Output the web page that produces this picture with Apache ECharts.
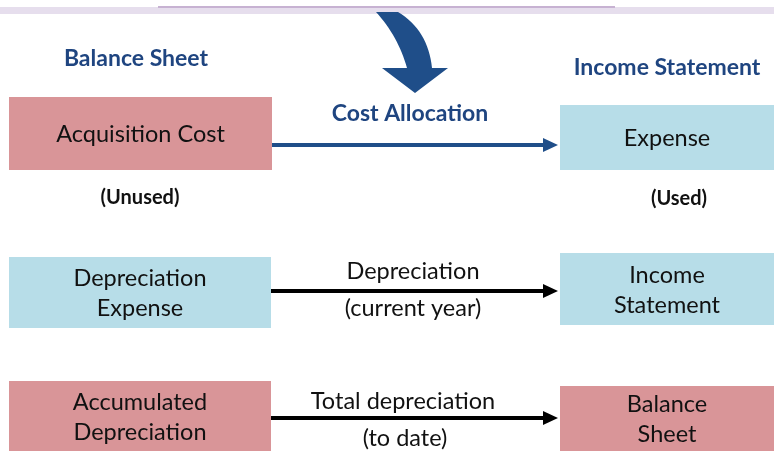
<!DOCTYPE html>
<html>
<head>
<meta charset="utf-8">
<title>Cost Allocation</title>
<style>
  html, body { margin: 0; padding: 0; background: #fff; }
  #main { width: 774px; height: 451px; }
</style>
</head>
<body>
<div id="main"></div>
<script src="https://cdn.jsdelivr.net/npm/echarts@6/dist/echarts.min.js"></script>
<script>
// boxes of the diagram (diagram units = page pixels, y downwards)
var boxText   = ['Acquisition Cost', 'Expense', 'Depreciation\nExpense', 'Income\nStatement', 'Accumulated\nDepreciation', 'Balance\nSheet'];
var boxKind   = ['bs', 'is', 'is', 'is', 'bs', 'bs'];
var boxLeft   = [9, 560, 9, 560, 9, 560];
var boxRight  = [272, 774, 271, 774, 271, 774];
var boxTop    = [97, 105, 257, 253, 381, 386];
var boxBottom = [170, 170, 328, 325, 451, 451];

// straight arrows
var arrowFrom  = [272, 271, 271];
var arrowTo    = [558, 558, 558];
var arrowY     = [145, 291, 418];
var arrowColor = ['#1f4e89', '#000', '#000'];

// free text labels
var labelText = ['Balance Sheet', 'Income Statement', 'Cost Allocation', '(Unused)', '(Used)',
                 'Depreciation', '(current year)', 'Total depreciation', '(to date)'];
var labelX    = [136, 667, 410, 140, 679, 413, 413, 403, 405];
var labelY    = [59, 68, 114, 198, 199, 271, 308, 401, 438];
var labelKind = ['head', 'head', 'head', 'note', 'note', 'plain', 'plain', 'plain', 'plain'];

// curved arrow outline: shaft top, outer curve, head, inner curve
var bendTop   = [[376, 12], [398, 12]];
var bendOuter = [[428, 30], [432, 68]];
var bendHead  = [[448, 68], [415, 93], [382, 68], [407, 68]];
var bendInner = [[398, 36], [376, 12]];

var fills = { bs: '#d99598', is: '#b7dde8' };
var fonts = {
    head: { font: 'bold 23px Lato', fill: '#1f4580' },
    note: { font: 'bold 20px Lato', fill: '#111' },
    plain: { font: '23.5px Lato', fill: '#111' }
};

function quad(p0, c, p1, n) {
    var pts = [];
    for (var k = 1; k <= n; k++) {
        var t = k / n, u = 1 - t;
        pts.push([u * u * p0[0] + 2 * u * t * c[0] + t * t * p1[0],
                  u * u * p0[1] + 2 * u * t * c[1] + t * t * p1[1]]);
    }
    return pts;
}

var myChart = echarts.init(document.getElementById('main'));
option = {
    animation: false,
    backgroundColor: '#fff',
    grid: { left: 0, right: 0, top: 0, bottom: 0 },
    xAxis: { type: 'value', min: 0, max: 774, show: false },
    yAxis: { type: 'value', min: 0, max: 451, inverse: true, show: false },
    series: [
        {
            // faint band at the top
            type: 'custom',
            silent: true,
            clip: false,
            data: [[0, 7]],
            renderItem: function (params, api) {
                var a = api.coord([0, 7]), b = api.coord([774, 14]);
                var c = api.coord([158, 6]), d = api.coord([615, 8]);
                return { type: 'group', children: [
                    { type: 'rect', shape: { x: a[0], y: a[1], width: b[0] - a[0], height: b[1] - a[1] }, style: { fill: '#e6deed' } },
                    { type: 'rect', shape: { x: c[0], y: c[1], width: d[0] - c[0], height: d[1] - c[1] }, style: { fill: '#c7b2d2' } }
                ] };
            }
        },
        {
            type: 'custom',
            silent: true,
            clip: false,
            data: boxText.map(function (t, i) { return [boxLeft[i], boxTop[i]]; }),
            renderItem: function (params, api) {
                var i = params.dataIndex;
                var p0 = api.coord([boxLeft[i], boxTop[i]]);
                var p1 = api.coord([boxRight[i], boxBottom[i]]);
                return { type: 'group', children: [
                    { type: 'rect', shape: { x: p0[0], y: p0[1], width: p1[0] - p0[0], height: p1[1] - p0[1] },
                      style: { fill: fills[boxKind[i]] } },
                    { type: 'text', style: { text: boxText[i], x: (p0[0] + p1[0]) / 2, y: (p0[1] + p1[1]) / 2 + 1,
                      align: 'center', verticalAlign: 'middle', font: '23.5px Lato', fill: '#111', lineHeight: 30 } }
                ] };
            }
        },
        {
            type: 'custom',
            silent: true,
            clip: false,
            data: arrowY.map(function (y, i) { return [arrowFrom[i], y]; }),
            renderItem: function (params, api) {
                var i = params.dataIndex;
                var a = api.coord([arrowFrom[i], arrowY[i]]);
                var b = api.coord([arrowTo[i], arrowY[i]]);
                var head = 15, half = 7;
                return { type: 'group', children: [
                    { type: 'line', shape: { x1: a[0], y1: a[1], x2: b[0] - head + 2, y2: b[1] },
                      style: { stroke: arrowColor[i], lineWidth: 4 } },
                    { type: 'polygon', shape: { points: [[b[0], b[1]], [b[0] - head, b[1] - half], [b[0] - head, b[1] + half]] },
                      style: { fill: arrowColor[i] } }
                ] };
            }
        },
        {
            // curved arrow
            type: 'custom',
            silent: true,
            clip: false,
            data: [bendTop[0]],
            renderItem: function (params, api) {
                var pts = [bendTop[0], bendTop[1]];
                pts = pts.concat(quad(bendTop[1], bendOuter[0], bendOuter[1], 16));
                pts = pts.concat(bendHead);
                pts = pts.concat(quad(bendHead[3], bendInner[0], bendInner[1], 16));
                return { type: 'polygon', shape: { points: pts.map(function (p) { return api.coord(p); }) },
                         style: { fill: '#1f4e89' } };
            }
        },
        {
            type: 'custom',
            silent: true,
            clip: false,
            data: labelText.map(function (t, i) { return [labelX[i], labelY[i]]; }),
            renderItem: function (params, api) {
                var i = params.dataIndex;
                var p = api.coord([labelX[i], labelY[i]]);
                var f = fonts[labelKind[i]];
                return { type: 'text', style: { text: labelText[i], x: p[0], y: p[1], align: 'center',
                         verticalAlign: 'middle', font: f.font, fill: f.fill } };
            }
        }
    ]
};
myChart.setOption(option);
</script>
</body>
</html>
